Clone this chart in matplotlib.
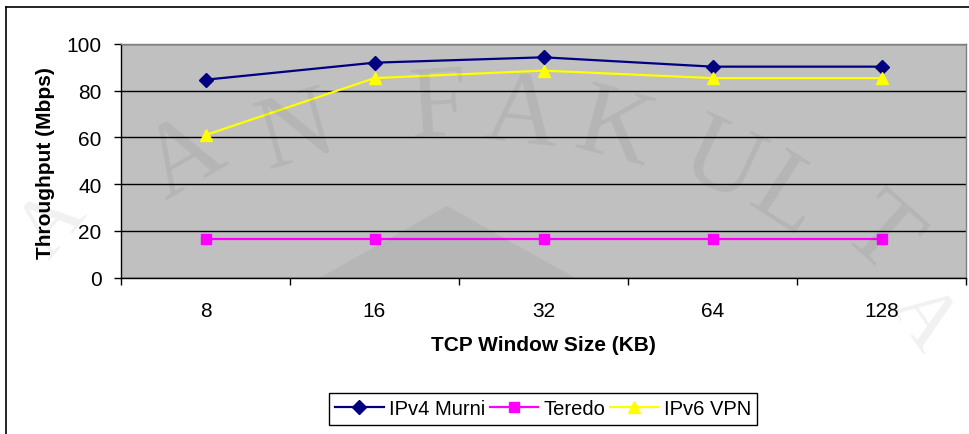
import math
import matplotlib
matplotlib.use('Agg')
import matplotlib.pyplot as plt
from matplotlib.lines import Line2D
from matplotlib.patches import Polygon

# Throughput per TCP window size
windowSizes = ['8', '16', '32', '64', '128']
ipv4Murni = [84.7, 92.0, 94.3, 90.3, 90.3]
teredo = [16.4, 16.4, 16.4, 16.4, 16.4]
ipv6Vpn = [61.0, 85.4, 88.6, 85.4, 85.4]

# Background watermark letters (pixel centre x, y, rotation, size)
wmLetters = ['A', 'A', 'N', 'F', 'A', 'K', 'U', 'L', 'T', 'A']
wmX = [52, 185, 297, 438, 522, 615, 721, 786, 878, 922]
wmY = [225, 160, 135, 110, 118, 133, 165, 200, 237, 318]
wmRot = [50, 30, 16, 4, -6, -15, -25, -33, -42, -55]
wmSize = [60, 75, 75, 75, 75, 75, 75, 75, 75, 60]

W, H = 969, 435
fontSize = 15
plt.rcParams['font.family'] = ['Liberation Sans', 'DejaVu Sans']

fig = plt.figure(figsize=(W / 100, H / 100), dpi=100)
fig.patch.set_facecolor('white')

# Plot area
ax = fig.add_axes([121 / W, 1 - 278.5 / H, 845 / W, 233.5 / H])
ax.set_facecolor('#C0C0C0')

x = range(len(windowSizes))
ax.plot(x, ipv4Murni, color='#000080', lw=1.6, marker='D', ms=7, mfc='#000080', mec='#000080', label='IPv4 Murni', zorder=4)
ax.plot(x, teredo, color='#FF00FF', lw=1.6, marker='s', ms=7, mfc='#FF00FF', mec='#FF00FF', label='Teredo', zorder=4)
ax.plot(x, ipv6Vpn, color='#FFFF00', lw=1.6, marker='^', ms=9, mfc='#FFFF00', mec='#FFFF00', label='IPv6 VPN', zorder=4)

ax.set_xlim(-0.5, len(windowSizes) - 0.5)
ax.set_ylim(0, 100)

# Ticks
ax.set_xticks(list(x))
ax.set_xticklabels(windowSizes, fontsize=fontSize)
ax.set_xticks([i - 0.5 for i in range(len(windowSizes) + 1)], minor=True)
ax.tick_params(axis='x', which='major', length=0, pad=17)
ax.tick_params(axis='x', which='minor', direction='out', length=5, width=1, color='black')
ax.set_yticks(range(0, 101, 20))
ax.set_yticklabels([str(v) for v in range(0, 101, 20)], fontsize=fontSize)
ax.tick_params(axis='y', direction='out', length=5, width=1, pad=9)

# Grid
ax.yaxis.grid(True, color='black', lw=1.0)
ax.set_axisbelow(True)

for side in ['left', 'bottom']:
  ax.spines[side].set_color('black')
  ax.spines[side].set_linewidth(1.0)
for side in ['top', 'right']:
  ax.spines[side].set_color('#808080')
  ax.spines[side].set_linewidth(1.0)

# Labels
fig.text(46 / W, 1 - 163 / H, 'Throughput (Mbps)', rotation=90, ha='center', va='center', fontsize=fontSize, fontweight='bold')
fig.text(543 / W, 1 - 346 / H, 'TCP Window Size (KB)', ha='center', va='center', fontsize=fontSize, fontweight='bold')

# Legend
handles = [
  Line2D([], [], color='#000080', lw=1.6, marker='D', ms=7, mfc='#000080', mec='#000080'),
  Line2D([], [], color='#FF00FF', lw=1.6, marker='s', ms=7, mfc='#FF00FF', mec='#FF00FF'),
  Line2D([], [], color='#FFFF00', lw=1.6, marker='^', ms=9, mfc='#FFFF00', mec='#FFFF00'),
]
leg = fig.legend(handles, ['IPv4 Murni', 'Teredo', 'IPv6 VPN'], loc='center', bbox_to_anchor=(543 / W, 1 - 410 / H),
                 ncol=3, fontsize=14.5, frameon=True, fancybox=False, framealpha=1, edgecolor='black',
                 handlelength=2.4, handletextpad=0.25, columnspacing=0.25, borderpad=0.3, borderaxespad=0)
leg.get_frame().set_linewidth(1.0)

# Chart area border
fig.add_artist(Line2D([6 / W, 6 / W], [0, 1 - 7.5 / H], color='black', lw=1.2, transform=fig.transFigure))
fig.add_artist(Line2D([6 / W, 1], [1 - 7.5 / H, 1 - 7.5 / H], color='black', lw=1.2, transform=fig.transFigure))

# Watermark
logo = Polygon([[447 / W, 1 - 207 / H], [300 / W, 1 - 290 / H], [595 / W, 1 - 290 / H]], closed=True,
               transform=fig.transFigure, facecolor='black', alpha=0.05, edgecolor='none')
logo.set_clip_path(ax.patch)
fig.add_artist(logo)
for ch, px, py, rot, sz in zip(wmLetters, wmX, wmY, wmRot, wmSize):
  fig.text(px / W, 1 - py / H, ch, family='Liberation Serif', fontsize=sz, color='black', alpha=0.06,
           ha='center', va='center', rotation=rot, rotation_mode='anchor')

plt.savefig('out.png', dpi=100)
